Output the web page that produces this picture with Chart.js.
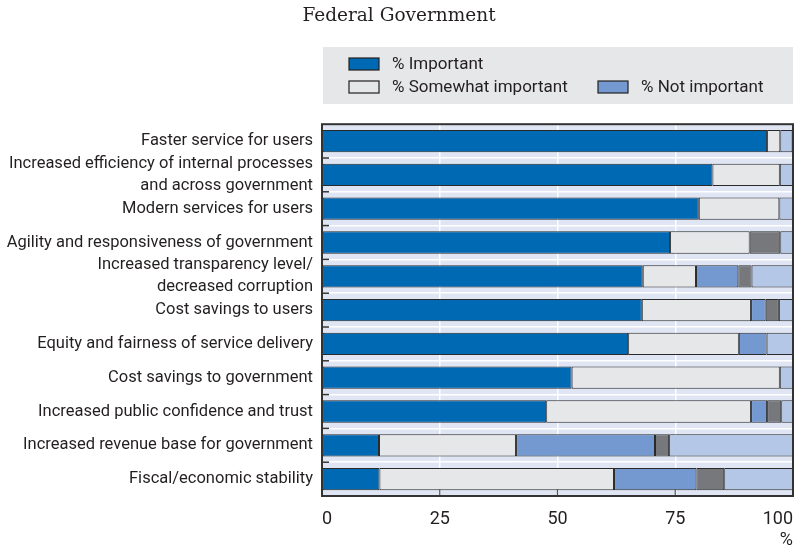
<!DOCTYPE html>
<html>
<head>
<meta charset="utf-8">
<title>Federal Government</title>
<script src="https://cdn.jsdelivr.net/npm/chart.js@4/dist/chart.umd.min.js"></script>
<style>
  html, body { margin: 0; padding: 0; background: #ffffff; }
  #wrap { width: 798px; height: 549px; position: relative; }
</style>
</head>
<body>
<div id="wrap"><canvas id="chart"></canvas></div>
<script>
// Benefits of digital government, share of responses (%)
const categories = [
  "Faster service for users",
  ["Increased efficiency of internal processes", "and across government"],
  "Modern services for users",
  "Agility and responsiveness of government",
  ["Increased transparency level/", "decreased corruption"],
  "Cost savings to users",
  "Equity and fairness of service delivery",
  "Cost savings to government",
  "Increased public confidence and trust",
  "Increased revenue base for government",
  "Fiscal/economic stability"
];

const important     = [94.5, 82.9, 80.0, 73.9, 68.1, 67.9, 65.0, 53.0, 47.6, 12.1, 12.2];
const somewhat      = [2.8, 14.3, 17.1, 16.9, 11.3, 23.2, 23.5, 44.2, 43.5, 29.1, 49.8];
const notImportant  = [null, null, null, null, 9.0, 3.1, 5.9, null, 3.4, 29.5, 17.5];
const dontKnow      = [null, null, null, 6.5, 2.8, 2.8, null, null, 3.0, 3.0, 5.9];
const notApplicable = [2.6, 2.8, 2.9, 2.7, 8.9, 3.0, 5.7, 2.8, 2.6, 26.3, 14.6];

const xTicks = [0, 25, 50, 75, 100];

const SANS = 'Roboto, "Liberation Sans", sans-serif';
const SERIF = '"DejaVu Serif", "Liberation Serif", serif';
const TEXT = '#231f20';
const PLOT_BG = '#dfe5f3';

// Plot background, frame, and the short inner tick marks
const plotDecor = {
  id: 'plotDecor',
  beforeDraw(chart) {
    const { ctx, chartArea: a } = chart;
    ctx.save();
    ctx.fillStyle = PLOT_BG;
    ctx.fillRect(a.left, a.top, a.right - a.left, a.bottom - a.top);
    ctx.restore();
  },
  afterDatasetsDraw(chart) {
    const { ctx, chartArea: a, scales } = chart;
    const y = scales.y, x = scales.x;
    ctx.save();
    ctx.strokeStyle = '#333333';
    ctx.lineWidth = 1.5;
    for (let i = 1; i < categories.length; i++) {
      const yy = (y.getPixelForTick(i - 1) + y.getPixelForTick(i)) / 2;
      ctx.beginPath();
      ctx.moveTo(a.left, yy);
      ctx.lineTo(a.left + 7, yy);
      ctx.stroke();
    }
    ctx.strokeStyle = '#555555';
    ctx.lineWidth = 1.2;
    [25, 50, 75].forEach(v => {
      const xx = x.getPixelForValue(v);
      ctx.beginPath();
      ctx.moveTo(xx, a.bottom - 7);
      ctx.lineTo(xx, a.bottom + 1);
      ctx.stroke();
    });
    ctx.strokeStyle = '#333333';
    ctx.lineWidth = 2;
    ctx.strokeRect(a.left, a.top, a.right - a.left, a.bottom - a.top);
    ctx.restore();
  }
};

// Legend panel with the three response categories
const legendPanel = {
  id: 'legendPanel',
  afterDraw(chart) {
    const { ctx } = chart;
    const ds = chart.data.datasets;
    ctx.save();
    ctx.fillStyle = '#e6e7e8';
    ctx.fillRect(323, 47, 470, 57);
    const items = [
      { d: ds[0], x: 349, y: 58 },
      { d: ds[1], x: 349, y: 81 },
      { d: ds[2], x: 598, y: 81 }
    ];
    ctx.font = '17px ' + SANS;
    ctx.textBaseline = 'middle';
    ctx.textAlign = 'left';
    items.forEach(it => {
      ctx.fillStyle = it.d.backgroundColor;
      ctx.fillRect(it.x, it.y, 30, 12);
      ctx.strokeStyle = '#231f20';
      ctx.lineWidth = 1.2;
      ctx.strokeRect(it.x, it.y, 30, 12);
      ctx.fillStyle = TEXT;
      ctx.fillText(it.d.label, it.x + 43, it.y + 6.5);
    });
    ctx.restore();
  }
};

const mkSet = (label, data, color) => ({
  label, data,
  backgroundColor: color,
  borderColor: '#2a2a2a',
  borderWidth: 1,
  borderSkipped: false,
  categoryPercentage: 1.0,
  barPercentage: 0.66
});

new Chart(document.getElementById('chart'), {
  type: 'bar',
  data: {
    labels: categories,
    datasets: [
      mkSet('% Important', important, '#0069b4'),
      mkSet('% Somewhat important', somewhat, '#e6e7e8'),
      mkSet('% Not important', notImportant, '#7399d0'),
      mkSet("% Don't know", dontKnow, '#77787b'),
      mkSet('% Not applicable', notApplicable, '#b4c7e7')
    ]
  },
  options: {
    indexAxis: 'y',
    responsive: true,
    maintainAspectRatio: false,
    animation: false,
    layout: { padding: { left: 0, right: 0, top: 0, bottom: 0 } },
    plugins: {
      legend: { display: false },
      tooltip: { enabled: false },
      title: {
        display: true,
        text: 'Federal Government',
        color: TEXT,
        font: { family: SERIF, size: 18.5, weight: 'normal', lineHeight: 1.2 },
        padding: { top: 5, bottom: 97 }
      }
    },
    scales: {
      x: {
        stacked: true,
        min: 0,
        max: 100,
        afterBuildTicks(scale) { scale.ticks = xTicks.map(v => ({ value: v })); },
        afterFit(scale) { scale.paddingLeft = 0; scale.paddingRight = 5; scale.height = 53; },
        grid: { color: '#ffffff', lineWidth: 1.5, drawTicks: false },
        border: { display: false },
        ticks: {
          align: 'inner',
          color: TEXT,
          padding: 14,
          font: { family: SANS, size: 18, lineHeight: 1.0 },
          maxRotation: 0
        },
        title: {
          display: true,
          text: '%',
          align: 'end',
          color: TEXT,
          font: { family: SANS, size: 18, lineHeight: 1.0 },
          padding: { top: 3, bottom: 0 }
        }
      },
      y: {
        stacked: true,
        afterFit(scale) { scale.width = 322; scale.paddingTop = 0; scale.paddingBottom = 0; },
        grid: { color: '#ffffff', lineWidth: 1.5, drawTicks: false, offset: true },
        border: { display: false },
        ticks: {
          autoSkip: false,
          color: TEXT,
          padding: 9,
          font: { family: SANS, size: 16.5, lineHeight: 1.33 }
        }
      }
    }
  },
  plugins: [plotDecor, legendPanel]
});
</script>
</body>
</html>
